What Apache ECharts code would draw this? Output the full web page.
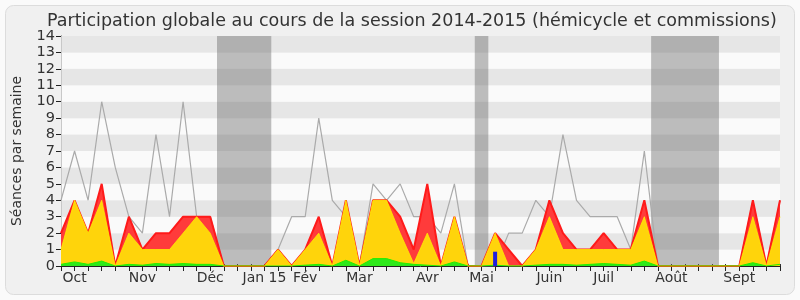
<!DOCTYPE html>
<html>
<head>
<meta charset="utf-8">
<script src="https://cdn.jsdelivr.net/npm/echarts@6/dist/echarts.min.js"></script>
<style>
html,body{margin:0;padding:0;background:#fafafa;}
#c{width:800px;height:300px;}
</style>
</head>
<body>
<div id="c"></div>
<script>
// Weekly values, index 0..53 (weeks of session 2014-2015)
const totalPresence = [2,4,2,5,0,3,1,2,2,3,3,3,0,0,0,0,1,0,1,3,0,4,0,4,4,3,1,5,0,3,0,0,2,1,0,1,4,2,1,1,2,1,1,4,0,0,0,0,0,0,0,4,0,4];
const hemicycle     = [1,4,2,4,0,2,1,1,1,2,3,2,0,0,0,0,1,0,1,2,0,4,0,4,4,2,0.15,2,0,3,0,0,2,0,0,1,3,1,1,1,1,1,1,3,0,0,0,0,0,0,0,3,0,3];
const interventions = [0.1,0.25,0.1,0.3,0,0.1,0.05,0.15,0.1,0.15,0.1,0.1,0,0,0,0,0,0,0.05,0.1,0,0.35,0,0.45,0.45,0.2,0.1,0.05,0,0.25,0,0,0.05,0,0,0.05,0.1,0.1,0.05,0.1,0.15,0.1,0.05,0.3,0,0,0,0,0,0,0,0.2,0,0.1];
const mediane       = [4,7,4,10,6,3,2,8,3,10,3,3,0,0,0,0,1,3,3,9,4,3,0,5,4,5,3,3,2,5,0,0,0,2,2,4,3,8,4,3,3,3,1,7,0,0,0,0,0,0,0,4,0,4];
const questionsWeek = [32];
const questionsVal  = [0.87];
// Month tick labels (week index -> label)
const monthWeeks  = [1,6,11,15,18,22,27,31,36,40,45,50];
const monthLabels = ['Oct','Nov','Déc','Jan 15','Fév','Mar','Avr','Mai','Juin','Juil','Août','Sept'];
// Parliamentary holidays (week index ranges)
const vacStart = [11.5,30.5,43.5];
const vacEnd   = [15.5,31.5,48.5];

const pairs = arr => arr.map((v,i)=>[i,v]);
const labelMap = {};
monthWeeks.forEach((w,k)=>labelMap[w]=monthLabels[k]);

const FONT = 'DejaVu Sans';
const chart = echarts.init(document.getElementById('c'), null, {renderer:'canvas'});
chart.setOption({
  animation:false,
  backgroundColor:'#fafafa',
  textStyle:{fontFamily:FONT},
  graphic:[{type:'rect',z:-10,shape:{x:5.5,y:5.5,width:789,height:289,r:8},style:{fill:'#f0f0f0',stroke:'#dcdcdc',lineWidth:1}}],
  title:{text:'Participation globale au cours de la session 2014-2015 (hémicycle et commissions)',left:42,top:7,
    textStyle:{fontFamily:FONT,fontSize:17.5,fontWeight:'normal',color:'#333'}},
  grid:{left:61,right:20,top:36,bottom:34},
  xAxis:[{type:'value',min:0,max:53,interval:1,
    axisLine:{show:true,onZero:false,lineStyle:{color:'#222',width:1}},
    axisTick:{show:true,length:5,lineStyle:{color:'#222'}},
    axisLabel:{show:true,interval:0,fontFamily:FONT,fontSize:14,color:'#333',margin:5,
      formatter:v=>labelMap[v]||''},
    splitLine:{show:false}},
   {type:'value',position:'top',min:0,max:53,interval:1,
    axisLine:{show:false},axisTick:{show:true,length:2,lineStyle:{color:'#333'}},
    axisLabel:{show:false},splitLine:{show:false}}],
  yAxis:[{type:'value',min:0,max:14,interval:1,
    name:'Séances par semaine',nameLocation:'middle',nameGap:37,
    nameTextStyle:{fontFamily:FONT,fontSize:14,color:'#333'},
    axisLine:{show:true,lineStyle:{color:'#222'}},
    axisTick:{show:true,length:5,lineStyle:{color:'#222'}},
    axisLabel:{fontFamily:FONT,fontSize:14.5,color:'#333',margin:6},
    splitLine:{show:false},
    splitArea:{show:true,areaStyle:{color:['#fafafa','#e6e6e6']}}},
   {type:'value',position:'right',min:0,max:14,interval:1,
    axisLine:{show:true,lineStyle:{color:'#c8c8c8'}},axisTick:{show:false},axisLabel:{show:false},splitLine:{show:false}}],
  series:[
    {type:'line',name:'vacances',data:[],z:1,silent:true,
     markArea:{silent:true,itemStyle:{color:'rgba(95,95,95,0.4)'},
       data:vacStart.map((s,k)=>[{xAxis:s},{xAxis:vacEnd[k]}])}},
    {type:'line',name:'médiane',data:pairs(mediane),z:2,symbol:'none',
     lineStyle:{color:'#aaaaaa',width:1.2}},
    {type:'line',name:'présence',data:pairs(totalPresence),z:3,symbol:'none',
     lineStyle:{color:'#ff1a1a',width:2},areaStyle:{color:'#ff3b3b',opacity:1}},
    {type:'line',name:'hémicycle',data:pairs(hemicycle),z:4,symbol:'none',
     lineStyle:{color:'rgba(255,238,0,0.8)',width:1},areaStyle:{color:'#ffd40b',opacity:1}},
    {type:'line',name:'interventions',data:pairs(interventions),z:5,symbol:'none',
     lineStyle:{color:'#22ee00',width:1},areaStyle:{color:'#2ee81a',opacity:1}},
    {type:'bar',name:'questions',data:questionsWeek.map((w,k)=>[w,questionsVal[k]]),z:6,barWidth:4,
     itemStyle:{color:'#1f1fdd'}}
  ]
});
</script>
</body>
</html>
